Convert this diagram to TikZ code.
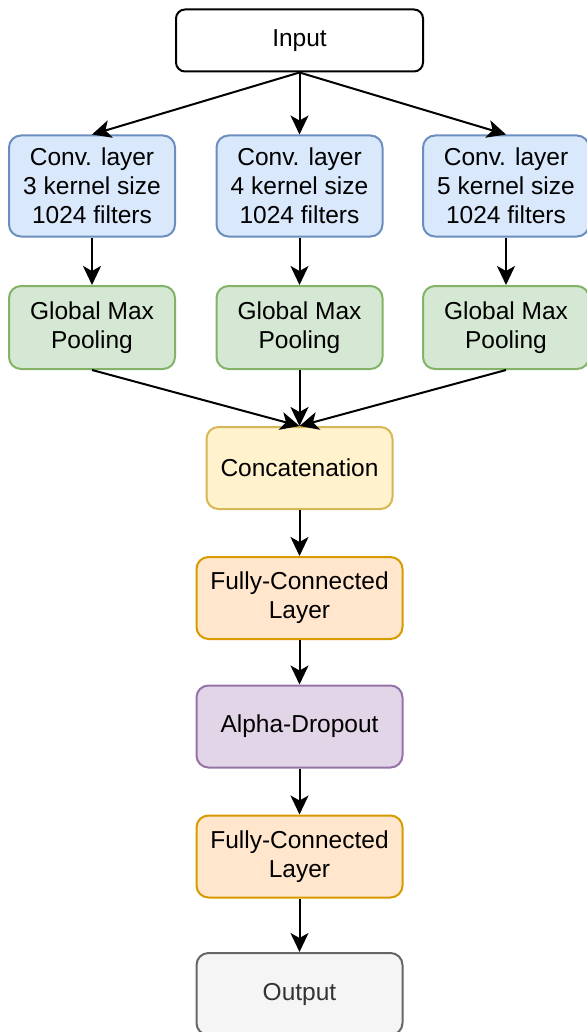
\documentclass[tikz,border=0pt]{standalone}
\usepackage{fontspec}
\setmainfont{Liberation Sans}
\usetikzlibrary{arrows.meta}
\definecolor{BlueFill}{HTML}{DAE8FC}
\definecolor{BlueLine}{HTML}{6C8EBF}
\definecolor{GreenFill}{HTML}{D5E8D4}
\definecolor{GreenLine}{HTML}{82B366}
\definecolor{YellowFill}{HTML}{FFF2CC}
\definecolor{YellowLine}{HTML}{D6B656}
\definecolor{OrangeFill}{HTML}{FFE6CC}
\definecolor{OrangeLine}{HTML}{D79B00}
\definecolor{PurpleFill}{HTML}{E1D5E7}
\definecolor{PurpleLine}{HTML}{9673A6}
\definecolor{GreyFill}{HTML}{F5F5F5}
\definecolor{GreyLine}{HTML}{666666}
\definecolor{GreyText}{HTML}{333333}

\begin{document}
\begin{tikzpicture}[
    x=1pt, y=-1pt,
    font=\fontsize{24.5pt}{28.8pt}\selectfont,
    layer/.style={
        rounded corners=12pt,
        line width=2pt,
        inner sep=0pt,
        align=center,
        minimum width=206pt,
        minimum height=82pt       % same height for the single column
    },
    inputbox/.style={
        layer,
        draw=black,
        fill=white,
        rounded corners=9pt,
        minimum width=247pt,
        minimum height=62pt
    },
    convbox/.style={
        layer,
        draw=BlueLine,
        fill=BlueFill,
        minimum width=166pt,
        minimum height=101pt
    },
    poolbox/.style={
        layer,
        draw=GreenLine,
        fill=GreenFill,
        minimum width=166pt,
        minimum height=83pt
    },
    concatbox/.style={
        layer,
        draw=YellowLine,
        fill=YellowFill,
        minimum width=186pt
    },
    densebox/.style={
        layer,
        draw=OrangeLine,
        fill=OrangeFill
    },
    dropbox/.style={
        layer,
        draw=PurpleLine,
        fill=PurpleFill
    },
    outputbox/.style={
        layer,
        draw=GreyLine,
        fill=GreyFill,
        text=GreyText
    },
    flow/.style={
        -{Stealth[length=19pt, width=18pt, inset=5pt]},
        line width=2pt,
        draw=black
    }
]

    % --- 1. Frame ---
    \useasboundingbox (0,0) rectangle (586,1032);

    % --- 2. Input and convolution branches ---
    \node[inputbox] (input) at (299.5,40.5) {Input};

    \node[convbox] (conv3) at (92,186) {Conv. layer\\3 kernel size\\1024 filters};
    \node[convbox] (conv4) at (299.5,186) {Conv. layer\\4 kernel size\\1024 filters};
    \node[convbox] (conv5) at (506,186) {Conv. layer\\5 kernel size\\1024 filters};

    \node[poolbox] (pool3) at (92,327.5) {Global Max\\Pooling};
    \node[poolbox] (pool4) at (299.5,327.5) {Global Max\\Pooling};
    \node[poolbox] (pool5) at (506,327.5) {Global Max\\Pooling};

    % --- 3. Merged column ---
    \node[concatbox] (concat) at (299.5,468) {Concatenation};
    \node[densebox] (dense1) at (299.5,598) {Fully-Connected\\Layer};
    \node[dropbox] (dropout) at (299.5,726.5) {Alpha-Dropout};
    \node[densebox] (dense2) at (299.5,856.5) {Fully-Connected\\Layer};
    \node[outputbox] (output) at (299.5,994) {Output};

    % --- 4. Connections ---
    \draw[flow] (input.south) -- (conv3.north);
    \draw[flow] (input.south) -- (conv4.north);
    \draw[flow] (input.south) -- (conv5.north);

    \draw[flow] (conv3) -- (pool3);
    \draw[flow] (conv4) -- (pool4);
    \draw[flow] (conv5) -- (pool5);

    \draw[flow] (pool3.south) -- (concat.north);
    \draw[flow] (pool4.south) -- (concat.north);
    \draw[flow] (pool5.south) -- (concat.north);

    \draw[flow] (concat) -- (dense1);
    \draw[flow] (dense1) -- (dropout);
    \draw[flow] (dropout) -- (dense2);
    \draw[flow] (dense2) -- (output);

\end{tikzpicture}
\end{document}
